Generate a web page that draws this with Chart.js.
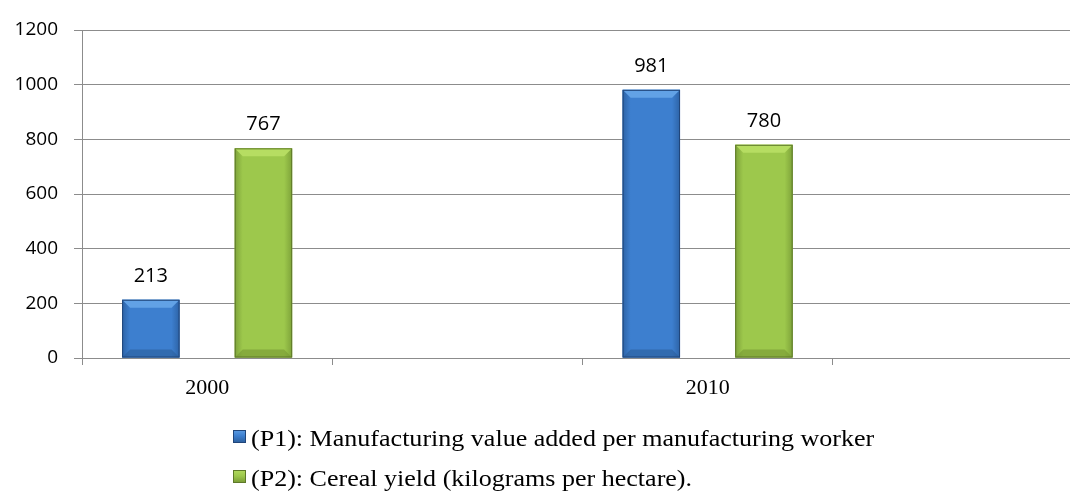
<!DOCTYPE html>
<html>
<head>
<meta charset="utf-8">
<script src="https://cdn.jsdelivr.net/npm/chart.js@4"></script>
<style>
  html, body { margin: 0; padding: 0; background: #fff; overflow: hidden; }
  #wrap { width: 1090px; height: 491px; }
</style>
</head>
<body>
<div id="wrap"><canvas id="barChartCanvas" width="1090" height="491"></canvas></div>
<script>
// 類別（每組之間留一個空白欄）
const categories = ['2000', '', '2010', ''];
// 數值
const p1Values = [213, null, 981, null];
const p2Values = [767, null, 780, null];
const seriesNames = [
  '(P1): Manufacturing value added per manufacturing worker',
  '(P2): Cereal yield (kilograms per hectare).'
];
const yTicks = [0, 200, 400, 600, 800, 1000, 1200];

const serifFont = '"Liberation Serif", "Times New Roman", Times, serif';
const sansFont = '"Open Sans", "Noto Sans", sans-serif';

// 每個系列的顏色
const palettes = [
  { mid: '#3d7fcf', edge: '#2d63a6', top: '#62a2e6', bottom: '#2b5d99', border: '#21467a' },
  { mid: '#9dc84c', edge: '#7ea33a', top: '#b6dd62', bottom: '#779834', border: '#5e792a' }
];

// 立體長條：用 library 算好的長條位置畫漸層與斜面
const bevelPlugin = {
  id: 'bevel',
  afterDatasetsDraw(chart) {
    const ctx = chart.ctx;
    chart.data.datasets.forEach((ds, i) => {
      const p = palettes[i];
      chart.getDatasetMeta(i).data.forEach((bar, j) => {
        if (ds.data[j] == null) return;
        const half = bar.width / 2;
        const l = bar.x - half, r = bar.x + half, t = bar.y, b = bar.base;
        const bev = 8;
        ctx.save();
        const g = ctx.createLinearGradient(l, 0, r, 0);
        g.addColorStop(0, p.edge);
        g.addColorStop(0.14, p.mid);
        g.addColorStop(0.86, p.mid);
        g.addColorStop(1, p.edge);
        ctx.fillStyle = g;
        ctx.fillRect(l, t, r - l, b - t);
        // 上緣亮面
        ctx.fillStyle = p.top;
        ctx.beginPath();
        ctx.moveTo(l, t);
        ctx.lineTo(r, t);
        ctx.lineTo(r - bev, t + bev);
        ctx.lineTo(l + bev, t + bev);
        ctx.closePath();
        ctx.fill();
        // 下緣暗面
        ctx.globalAlpha = 0.6;
        ctx.fillStyle = p.bottom;
        ctx.beginPath();
        ctx.moveTo(l, b);
        ctx.lineTo(r, b);
        ctx.lineTo(r - bev, b - bev);
        ctx.lineTo(l + bev, b - bev);
        ctx.closePath();
        ctx.fill();
        ctx.globalAlpha = 1;
        ctx.strokeStyle = p.border;
        ctx.lineWidth = 1;
        ctx.strokeRect(l + 0.5, t + 0.5, r - l - 1, b - t - 1);
        ctx.restore();
      });
    });
  }
};

// 長條上方的數值
const valueLabelPlugin = {
  id: 'valueLabels',
  afterDatasetsDraw(chart) {
    const ctx = chart.ctx;
    ctx.save();
    ctx.font = '20px ' + sansFont;
    ctx.fillStyle = '#000';
    ctx.textAlign = 'center';
    ctx.textBaseline = 'alphabetic';
    chart.data.datasets.forEach((ds, i) => {
      chart.getDatasetMeta(i).data.forEach((bar, j) => {
        const v = ds.data[j];
        if (v == null) return;
        ctx.fillText(String(v), bar.x, bar.y - 18);
      });
    });
    ctx.restore();
  }
};

// 圖例：兩行、靠左對齊
const legendPlugin = {
  id: 'twoLineLegend',
  afterDraw(chart) {
    const ctx = chart.ctx;
    const x0 = 233;
    const rows = [436, 476];
    chart.data.datasets.forEach((ds, i) => {
      const p = palettes[i];
      const y = rows[i];
      ctx.save();
      const g = ctx.createLinearGradient(0, y - 7, 0, y + 7);
      g.addColorStop(0, p.top);
      g.addColorStop(0.5, p.mid);
      g.addColorStop(1, p.bottom);
      ctx.fillStyle = g;
      ctx.fillRect(x0, y - 6, 13, 13);
      ctx.strokeStyle = p.border;
      ctx.lineWidth = 1;
      ctx.strokeRect(x0 + 0.5, y - 5.5, 12, 12);
      ctx.translate(x0 + 18, y + 10);
      ctx.scale(1.085, 1);
      ctx.font = '24px ' + serifFont;
      ctx.fillStyle = '#000';
      ctx.textBaseline = 'alphabetic';
      ctx.fillText(ds.label, 0, 0);
      ctx.restore();
    });
  }
};

const chartData = {
  labels: categories,
  datasets: [
    { label: seriesNames[0], data: p1Values, backgroundColor: palettes[0].mid, borderWidth: 0 },
    { label: seriesNames[1], data: p2Values, backgroundColor: palettes[1].mid, borderWidth: 0 }
  ]
};

const options = {
  responsive: false,
  animation: false,
  layout: { padding: { top: 30, right: 7, bottom: 0, left: 0 } },
  plugins: {
    legend: { display: false },
    tooltip: { enabled: false }
  },
  datasets: {
    bar: { categoryPercentage: 0.9, barPercentage: 0.51, skipNull: false }
  },
  scales: {
    x: {
      afterFit(scale) { scale.height = 133; },
      grid: {
        offset: true,
        drawOnChartArea: false,
        drawTicks: true,
        tickLength: 7,
        color: '#8c8c8c'
      },
      border: { color: '#8c8c8c' },
      ticks: {
        color: '#000',
        padding: 10,
        font: { family: serifFont, size: 22 }
      }
    },
    y: {
      min: 0,
      max: 1200,
      afterFit(scale) { scale.width = 82; },
      afterBuildTicks(scale) { scale.ticks = yTicks.map(v => ({ value: v })); },
      grid: { color: '#8c8c8c', tickLength: 8 },
      border: { color: '#8c8c8c' },
      ticks: {
        color: '#000',
        padding: 16,
        font: { family: sansFont, size: 19 },
        callback: v => String(v)
      }
    }
  }
};

const barChart = new Chart(document.getElementById('barChartCanvas'), {
  type: 'bar',
  data: chartData,
  options: options,
  plugins: [bevelPlugin, valueLabelPlugin, legendPlugin]
});
</script>
</body>
</html>
